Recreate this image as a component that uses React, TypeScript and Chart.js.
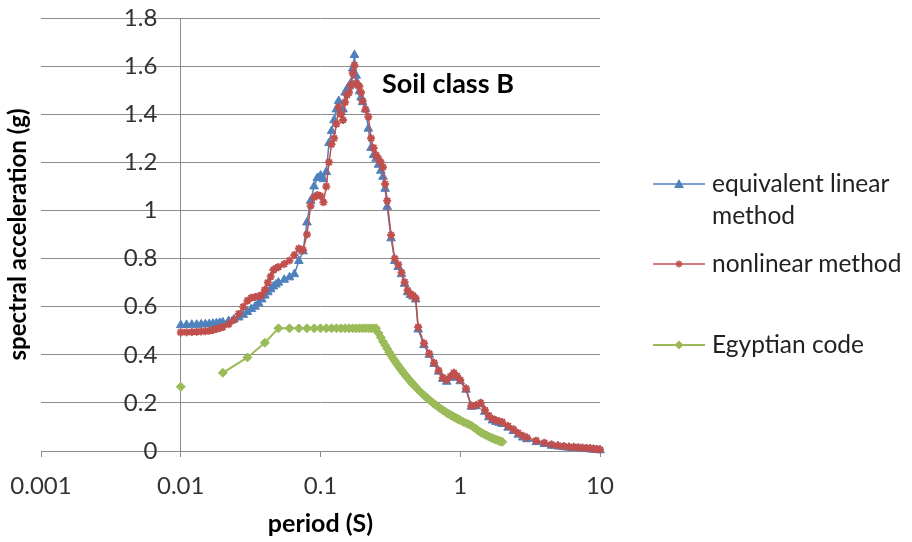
import React, { useEffect, useRef } from 'react';
import { Chart, registerables } from 'chart.js';

Chart.register(...registerables);

// ---------- data ----------
const periods = [
  0.010, 0.011, 0.012, 0.013, 0.014, 0.015, 0.016, 0.017, 0.018, 0.019, 0.020,
  0.022, 0.024, 0.026, 0.028, 0.030, 0.032, 0.034, 0.036, 0.038, 0.040, 0.042, 0.044, 0.046, 0.048, 0.050,
  0.055, 0.060, 0.065, 0.070, 0.075, 0.080, 0.085, 0.090, 0.095, 0.100,
  0.105, 0.110, 0.115, 0.120, 0.125, 0.130, 0.135, 0.140, 0.145, 0.150,
  0.155, 0.160, 0.165, 0.170, 0.175, 0.180, 0.185, 0.190, 0.195, 0.200,
  0.21, 0.22, 0.23, 0.24, 0.25, 0.26, 0.27, 0.28, 0.29, 0.30,
  0.32, 0.34, 0.36, 0.38, 0.40, 0.42, 0.44, 0.46, 0.48, 0.50,
  0.55, 0.60, 0.65, 0.70, 0.75, 0.80, 0.85, 0.90, 0.95, 1.0,
  1.1, 1.2, 1.3, 1.4, 1.5, 1.6, 1.7, 1.8, 1.9, 2.0,
  2.2, 2.4, 2.6, 2.8, 3.0,
  3.5, 4.0, 4.5, 5.0, 5.5, 6.0, 6.5, 7.0, 7.5, 8.0, 8.5, 9.0, 9.5, 10.0,
];

const equivalentLinear = [
  0.523, 0.524, 0.525, 0.525, 0.526, 0.527, 0.528, 0.529, 0.531, 0.533, 0.535,
  0.540, 0.547, 0.555, 0.566, 0.578, 0.590, 0.600, 0.615, 0.630, 0.646, 0.660, 0.672, 0.684, 0.692, 0.700,
  0.712, 0.722, 0.735, 0.790, 0.830, 0.950, 1.040, 1.100, 1.135, 1.145,
  1.130, 1.160, 1.280, 1.330, 1.375, 1.420, 1.455, 1.410, 1.420, 1.490,
  1.505, 1.515, 1.530, 1.590, 1.646, 1.560, 1.525, 1.495, 1.470, 1.450,
  1.420, 1.340, 1.260, 1.230, 1.215, 1.190, 1.165, 1.140, 1.090, 1.015,
  0.884, 0.790, 0.765, 0.735, 0.695, 0.660, 0.648, 0.642, 0.630, 0.505,
  0.440, 0.400, 0.362, 0.330, 0.300, 0.288, 0.305, 0.318, 0.305, 0.290,
  0.255, 0.184, 0.186, 0.196, 0.163, 0.140, 0.127, 0.121, 0.117, 0.112,
  0.097, 0.083, 0.068, 0.056, 0.049,
  0.037, 0.029, 0.022, 0.019, 0.016, 0.014, 0.013, 0.011, 0.009, 0.008, 0.007, 0.005, 0.004, 0.003,
];

const nonlinear = [
  0.493, 0.494, 0.495, 0.496, 0.497, 0.498, 0.500, 0.503, 0.507, 0.511, 0.515,
  0.527, 0.545, 0.570, 0.600, 0.625, 0.637, 0.640, 0.643, 0.648, 0.670, 0.700, 0.725, 0.752, 0.760, 0.765,
  0.777, 0.792, 0.815, 0.842, 0.835, 0.900, 1.020, 1.055, 1.064, 1.060,
  1.034, 1.100, 1.200, 1.275, 1.300, 1.360, 1.430, 1.400, 1.376, 1.450,
  1.480, 1.490, 1.520, 1.570, 1.604, 1.530, 1.520, 1.515, 1.490, 1.455,
  1.420, 1.390, 1.300, 1.260, 1.230, 1.215, 1.200, 1.180, 1.110, 1.040,
  0.898, 0.800, 0.775, 0.742, 0.702, 0.668, 0.652, 0.646, 0.635, 0.515,
  0.448, 0.405, 0.367, 0.335, 0.305, 0.295, 0.310, 0.325, 0.312, 0.295,
  0.260, 0.188, 0.190, 0.200, 0.170, 0.147, 0.134, 0.128, 0.124, 0.120,
  0.104, 0.090, 0.075, 0.063, 0.056,
  0.043, 0.034, 0.027, 0.023, 0.020, 0.018, 0.017, 0.015, 0.013, 0.012, 0.011, 0.009, 0.008, 0.006,
];

const codePeriods = [
  0.01, 0.015, 0.02, 0.03, 0.04,
  0.05, 0.06, 0.07, 0.08, 0.09, 0.10, 0.11, 0.12, 0.13, 0.14, 0.15,
  0.16, 0.17, 0.18, 0.19, 0.20, 0.21, 0.22, 0.23, 0.24, 0.25,
  0.26, 0.27, 0.28, 0.29, 0.30, 0.31, 0.32, 0.33, 0.34, 0.35,
  0.36, 0.37, 0.38, 0.39, 0.40, 0.41, 0.42, 0.43, 0.44, 0.45,
  0.46, 0.47, 0.48, 0.49, 0.50,
  0.52, 0.54, 0.56, 0.58, 0.60, 0.62, 0.64, 0.66, 0.68, 0.70,
  0.72, 0.74, 0.76, 0.78, 0.80, 0.82, 0.84, 0.86, 0.88, 0.90,
  0.92, 0.94, 0.96, 0.98, 1.00,
  1.05, 1.10, 1.15, 1.20, 1.25, 1.30, 1.35, 1.40, 1.45, 1.50,
  1.55, 1.60, 1.65, 1.70, 1.75, 1.80, 1.85, 1.90, 1.95, 2.00,
];

const egyptianCode = [
  0.267, null, 0.325, 0.389, 0.450,
  0.51, 0.51, 0.51, 0.51, 0.51, 0.51, 0.51, 0.51, 0.51, 0.51, 0.51,
  0.51, 0.51, 0.51, 0.51, 0.51, 0.51, 0.51, 0.51, 0.51, 0.51,
  0.490, 0.472, 0.455, 0.440, 0.425, 0.411, 0.398, 0.386, 0.375, 0.364,
  0.354, 0.345, 0.336, 0.327, 0.319, 0.311, 0.304, 0.297, 0.290, 0.283,
  0.277, 0.271, 0.266, 0.260, 0.255,
  0.245, 0.236, 0.228, 0.220, 0.213, 0.206, 0.199, 0.193, 0.188, 0.182,
  0.177, 0.172, 0.168, 0.163, 0.159, 0.155, 0.152, 0.148, 0.145, 0.142,
  0.139, 0.136, 0.133, 0.130, 0.128,
  0.121, 0.116, 0.111, 0.106, 0.098, 0.091, 0.084, 0.078, 0.073, 0.068,
  0.064, 0.060, 0.056, 0.053, 0.050, 0.047, 0.045, 0.042, 0.040, 0.038,
];

const xTickValues = [0.001, 0.01, 0.1, 1, 10];
const xTickLabels = ['0.001', '0.01', '0.1', '1', '10'];
const yAxisCrossing = 0.01;      // vertical axis line drawn at this period
const yLabelAnchor = 0.0068;     // y tick labels right-aligned at this period (just left of the axis line)
const yTickValues = [0, 0.2, 0.4, 0.6, 0.8, 1.0, 1.2, 1.4, 1.6, 1.8];
const yTickLabels = ['0', '0.2', '0.4', '0.6', '0.8', '1', '1.2', '1.4', '1.6', '1.8'];

const seriesNames = ['equivalent linear method', 'nonlinear method', 'Egyptian code'];
const legendLines = [['equivalent linear', 'method'], ['nonlinear method'], ['Egyptian code']];
const xTitle = 'period (S)';
const yTitle = 'spectral acceleration (g)';
const annotationText = 'Soil class B';

// ---------- styles ----------
const BLUE = '#4F81BD';
const RED = '#C0504D';
const GREEN = '#9BBB59';
const GRID = '#8C8C8C';
const TEXT = '#333333';
const FONT = 'Lato, "Open Sans", sans-serif';

const toPoints = (xs: number[], ys: (number | null)[]) => xs.map((x, i) => ({ x, y: ys[i] }));

function Marker({ kind, color }: { kind: string; color: string }) {
  const cx = 26, cy = 10;
  let shape: any = null;
  if (kind === 'triangle') {
    shape = <polygon points={`${cx},${cy - 5} ${cx + 5},${cy + 4} ${cx - 5},${cy + 4}`} fill={color} />;
  } else if (kind === 'star') {
    shape = (
      <g stroke={color} strokeWidth={1.6}>
        <line x1={cx - 3.5} y1={cy} x2={cx + 3.5} y2={cy} />
        <line x1={cx} y1={cy - 3.5} x2={cx} y2={cy + 3.5} />
        <line x1={cx - 2.5} y1={cy - 2.5} x2={cx + 2.5} y2={cy + 2.5} />
        <line x1={cx - 2.5} y1={cy + 2.5} x2={cx + 2.5} y2={cy - 2.5} />
      </g>
    );
  } else {
    shape = <polygon points={`${cx},${cy - 4.5} ${cx + 4.5},${cy} ${cx},${cy + 4.5} ${cx - 4.5},${cy}`} fill={color} />;
  }
  return (
    <svg width={52} height={20} style={{ position: 'absolute', left: 0, top: -10 }}>
      <line x1={0} y1={cy} x2={52} y2={cy} stroke={color} strokeWidth={kind === 'diamond' ? 2 : 1.5} />
      {shape}
    </svg>
  );
}

export default function App() {
  const canvasRef = useRef<HTMLCanvasElement | null>(null);

  useEffect(() => {
    const canvas = canvasRef.current;
    if (!canvas) return;
    const setYTicks = (scale: any) => {
      scale.ticks = yTickValues.map((v) => ({ value: v }));
    };
    const chart = new Chart(canvas, {
      type: 'line',
      data: {
        datasets: [
          {
            label: seriesNames[0],
            data: toPoints(periods, equivalentLinear),
            borderColor: BLUE,
            backgroundColor: BLUE,
            borderWidth: 1.5,
            pointStyle: 'triangle',
            pointRadius: 5,
            pointBorderWidth: 1,
            pointBackgroundColor: BLUE,
            pointBorderColor: BLUE,
            tension: 0,
            clip: false,
            order: 2,
          },
          {
            label: seriesNames[1],
            data: toPoints(periods, nonlinear),
            borderColor: RED,
            backgroundColor: RED,
            borderWidth: 1.5,
            pointStyle: 'star',
            pointRadius: 4,
            pointBorderWidth: 2,
            pointBackgroundColor: RED,
            pointBorderColor: RED,
            tension: 0,
            clip: false,
            order: 1,
          },
          {
            label: seriesNames[2],
            data: toPoints(codePeriods, egyptianCode),
            borderColor: GREEN,
            backgroundColor: GREEN,
            borderWidth: 2,
            pointStyle: 'rectRot',
            pointRadius: 4.5,
            pointBorderWidth: 1,
            pointBackgroundColor: GREEN,
            pointBorderColor: GREEN,
            spanGaps: false,
            tension: 0,
            clip: false,
            order: 3,
          },
        ],
      },
      options: {
        animation: false,
        responsive: false,
        maintainAspectRatio: false,
        layout: { padding: { top: 18, right: 312, bottom: 0, left: 0 } },
        plugins: {
          legend: { display: false },
          tooltip: { enabled: false },
        },
        scales: {
          x: {
            type: 'logarithmic',
            position: 'bottom',
            min: 0.001,
            max: 10,
            afterBuildTicks: (scale: any) => {
              scale.ticks = xTickValues.map((v) => ({ value: v }));
            },
            afterFit: (scale: any) => {
              scale.height = 91;
            },
            ticks: {
              autoSkip: false,
              maxRotation: 0,
              padding: 3,
              color: TEXT,
              font: { family: FONT, size: 24, lineHeight: 2.2 },
              callback: (_v: any, i: number) => xTickLabels[i],
            },
            grid: {
              drawOnChartArea: true,
              drawTicks: true,
              tickLength: 6,
              tickColor: GRID,
              lineWidth: 1,
              color: (ctx: any) =>
                ctx.tick && ctx.tick.value === yAxisCrossing ? GRID : 'rgba(0,0,0,0)',
            },
            border: { display: true, color: GRID, width: 1 },
            title: {
              display: true,
              text: xTitle,
              color: '#000',
              font: { family: FONT, size: 25, weight: 'bold' },
              padding: { top: 0, bottom: 3 },
            },
          },
          y: {
            type: 'linear',
            position: 'left',
            min: 0,
            max: 1.8,
            afterBuildTicks: setYTicks,
            afterFit: (scale: any) => {
              scale.width = 41;
            },
            ticks: { display: false },
            grid: { drawTicks: false, tickLength: 0, color: GRID, lineWidth: 1 },
            border: { display: false },
            title: {
              display: true,
              text: yTitle,
              color: '#000',
              font: { family: FONT, size: 24, weight: 'bold' },
              padding: { top: 4, bottom: 0 },
            },
          },
          yLabels: {
            type: 'linear',
            position: { x: yLabelAnchor },
            min: 0,
            max: 1.8,
            afterBuildTicks: setYTicks,
            ticks: {
              color: TEXT,
              font: { family: FONT, size: 24 },
              callback: (_v: any, i: number) => yTickLabels[i],
            },
            grid: { display: false, drawTicks: false },
            border: { display: false },
          },
        },
      } as any,
    });
    return () => chart.destroy();
  }, []);

  const legendTops = [184, 264, 345];
  const legendKinds = ['triangle', 'star', 'diamond'];
  const legendColors = [BLUE, RED, GREEN];

  return (
    <div style={{ position: 'fixed', left: 0, top: 0, width: 912, height: 542, background: '#fff' }}>
      <canvas ref={canvasRef} width={912} height={542} style={{ position: 'absolute', left: 0, top: 0 }} />
      <div
        style={{
          position: 'absolute',
          left: 382,
          top: 69,
          font: `bold 27px ${FONT}`,
          lineHeight: '27px',
          color: '#000',
          whiteSpace: 'nowrap',
        }}
      >
        {annotationText}
      </div>
      {legendLines.map((lines, i) => (
        <div key={i} style={{ position: 'absolute', left: 653, top: legendTops[i] }}>
          <Marker kind={legendKinds[i]} color={legendColors[i]} />
          <div
            style={{
              position: 'absolute',
              left: 59,
              top: -17,
              font: `24.5px ${FONT}`,
              lineHeight: '32px',
              color: '#222',
              whiteSpace: 'nowrap',
            }}
          >
            {lines.map((t, j) => (
              <div key={j}>{t}</div>
            ))}
          </div>
        </div>
      ))}
    </div>
  );
}
